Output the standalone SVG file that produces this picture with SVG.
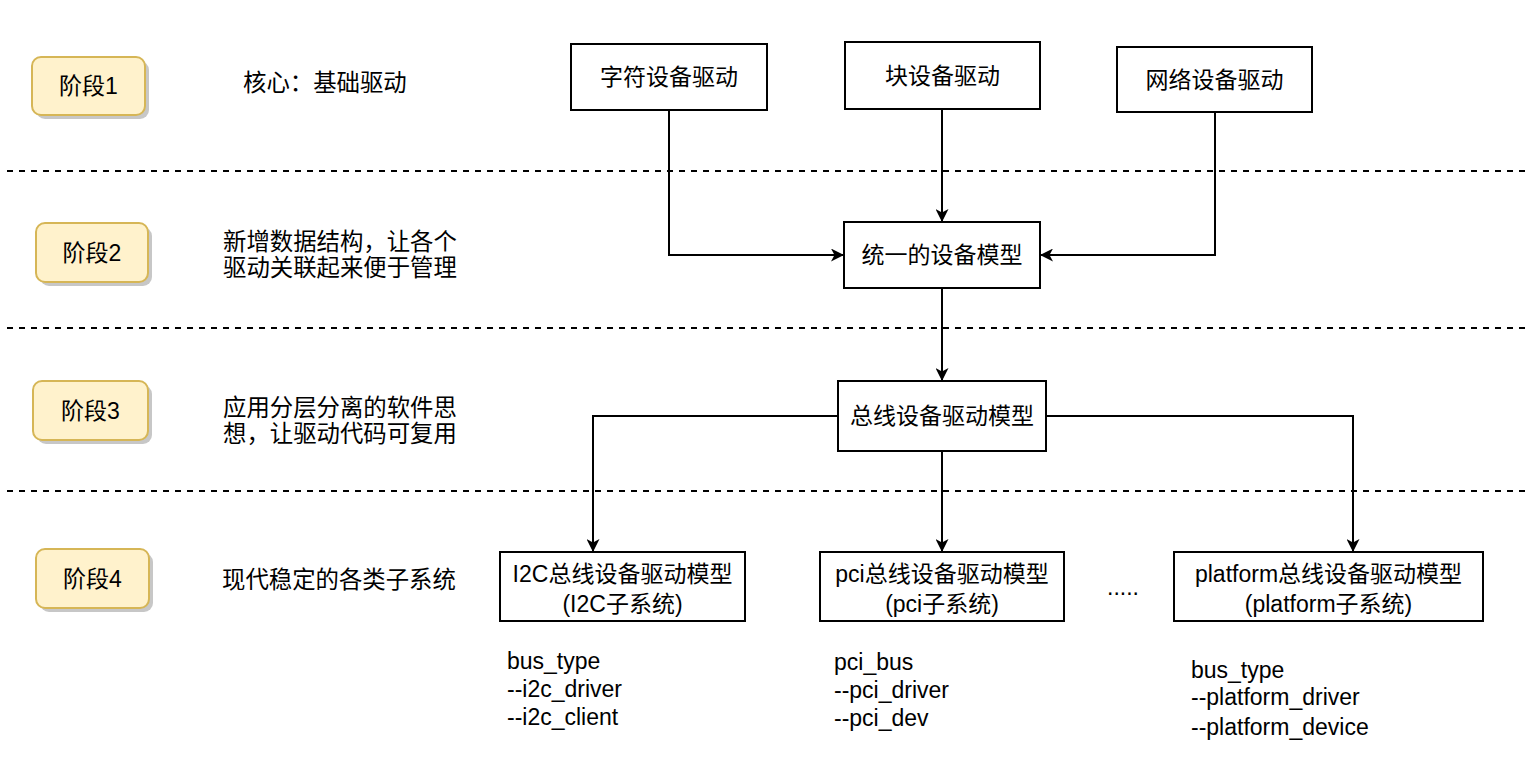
<svg xmlns="http://www.w3.org/2000/svg" width="1535" height="761" viewBox="0 0 1535 761">
<style>
.t{font-family:"Liberation Sans","Noto Sans CJK SC",sans-serif;font-size:23px;fill:#000;dominant-baseline:central}
.d{font-size:23.4px}
.c{text-anchor:middle}
.box{fill:#fff;stroke:#000;stroke-width:2}
.stage{fill:#fff2cc;stroke:#d6b656;stroke-width:2}
.shadow{fill:#000;opacity:0.22}
.dash{stroke:#000;stroke-width:2;stroke-dasharray:6 6;fill:none}
.edge{stroke:#000;stroke-width:2;fill:none;marker-end:url(#arr)}
</style>
<defs>
<marker id="arr" markerUnits="userSpaceOnUse" markerWidth="15" markerHeight="13" refX="13" refY="6.5" orient="auto">
<path d="M0,0 L13,6.5 L0,13 L3.5,6.5 z" fill="#000"/>
</marker>
</defs>
<rect width="1535" height="761" fill="#fff"/>
<g id="separators">
<line class="dash" x1="7" y1="171" x2="1530" y2="171"/>
<line class="dash" x1="7" y1="328" x2="1530" y2="328"/>
<line class="dash" x1="7" y1="491" x2="1530" y2="491"/>
</g>
<g id="stage1">
<rect class="shadow" x="36" y="61" width="113" height="58" rx="9"/>
<rect class="stage" x="32" y="57" width="113" height="58" rx="9"/>
<text class="t c" x="88.5" y="86">阶段1</text>
</g>
<g id="stage2">
<rect class="shadow" x="40" y="227" width="112" height="59" rx="9"/>
<rect class="stage" x="36" y="223" width="112" height="59" rx="9"/>
<text class="t c" x="92" y="252.5">阶段2</text>
</g>
<g id="stage3">
<rect class="shadow" x="37" y="385" width="115" height="59" rx="9"/>
<rect class="stage" x="33" y="381" width="115" height="59" rx="9"/>
<text class="t c" x="90.5" y="410.5">阶段3</text>
</g>
<g id="stage4">
<rect class="shadow" x="40" y="553" width="113" height="59" rx="9"/>
<rect class="stage" x="36" y="549" width="113" height="59" rx="9"/>
<text class="t c" x="92.5" y="578.5">阶段4</text>
</g>
<g id="desc1"><text class="t d" x="243" y="83">核心：基础驱动</text></g>
<g id="desc2"><text class="t d" x="223" y="242">新增数据结构，让各个</text><text class="t d" x="223" y="268">驱动关联起来便于管理</text></g>
<g id="desc3"><text class="t d" x="223" y="408">应用分层分离的软件思</text><text class="t d" x="223" y="434">想，让驱动代码可复用</text></g>
<g id="desc4"><text class="t d" x="222" y="580">现代稳定的各类子系统</text></g>
<g id="char">
<rect class="box" x="571" y="44" width="196" height="66"/>
<text class="t c" x="669" y="77">字符设备驱动</text>
</g>
<g id="block">
<rect class="box" x="845" y="42" width="195" height="67"/>
<text class="t c" x="942.5" y="75.5">块设备驱动</text>
</g>
<g id="net">
<rect class="box" x="1117" y="47" width="195" height="65"/>
<text class="t c" x="1214.5" y="79.5">网络设备驱动</text>
</g>
<g id="unified">
<rect class="box" x="844" y="222" width="196" height="66"/>
<text class="t c" x="942" y="255">统一的设备模型</text>
</g>
<g id="busmodel">
<rect class="box" x="838" y="381" width="208" height="70"/>
<text class="t c" x="942" y="416">总线设备驱动模型</text>
</g>
<g id="i2c">
<rect class="box" x="500" y="552" width="245" height="69"/>
<text class="t c" x="622.5" y="574">I2C总线设备驱动模型</text>
<text class="t c" x="622.5" y="604">(I2C子系统)</text>
</g>
<g id="pci">
<rect class="box" x="820" y="552" width="244" height="69"/>
<text class="t c" x="942" y="574">pci总线设备驱动模型</text>
<text class="t c" x="942" y="604">(pci子系统)</text>
</g>
<g id="platform">
<rect class="box" x="1174" y="552" width="309" height="69"/>
<text class="t c" x="1328.5" y="574">platform总线设备驱动模型</text>
<text class="t c" x="1328.5" y="604">(platform子系统)</text>
</g>
<g id="dots"><text class="t" x="1107" y="587">.....</text></g>
<g id="i2c-notes">
<text class="t" x="507" y="661">bus_type</text>
<text class="t" x="507" y="689">--i2c_driver</text>
<text class="t" x="507" y="717">--i2c_client</text>
</g>
<g id="pci-notes">
<text class="t" x="834" y="662">pci_bus</text>
<text class="t" x="834" y="690">--pci_driver</text>
<text class="t" x="834" y="718">--pci_dev</text>
</g>
<g id="platform-notes">
<text class="t" x="1191" y="670">bus_type</text>
<text class="t" x="1191" y="697">--platform_driver</text>
<text class="t" x="1191" y="727">--platform_device</text>
</g>
<g id="connectors">
<path class="edge" d="M669 110 V255 H844"/>
<path class="edge" d="M942 109 V222"/>
<path class="edge" d="M1215 112 V255 H1040"/>
<path class="edge" d="M942 288 V381"/>
<path class="edge" d="M838 416 H593 V552"/>
<path class="edge" d="M942 451 V552"/>
<path class="edge" d="M1046 416 H1353 V552"/>
</g>
</svg>
